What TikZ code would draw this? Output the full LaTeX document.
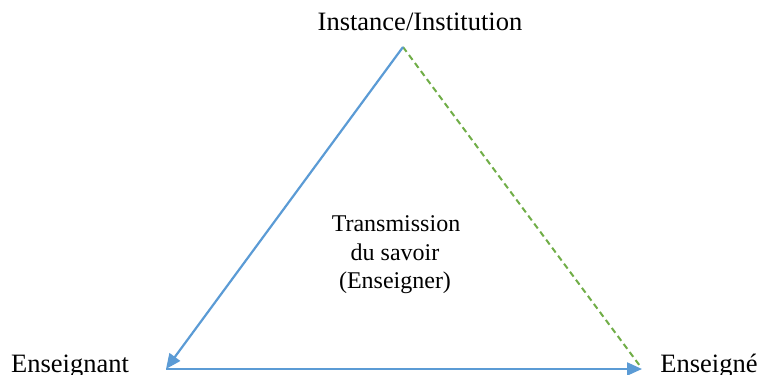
\documentclass[tikz,border=0pt]{standalone}
\usepackage{fontspec}
\setmainfont{Liberation Serif}
\usetikzlibrary{arrows.meta}
\definecolor{lblue}{RGB}{91,155,213}
\definecolor{lgreen}{RGB}{112,173,71}
\begin{document}
\begin{tikzpicture}[x=0.5pt,y=-0.5pt,
  lbl/.style={inner sep=0pt,anchor=base,font=\fontsize{13.25pt}{15pt}\selectfont},
  mid/.style={inner sep=0pt,anchor=base,font=\fontsize{12pt}{14pt}\selectfont},
  bline/.style={draw=lblue,line width=1.1pt,-{Triangle[length=7.5pt,width=6.5pt]}},
  gline/.style={draw=lgreen,line width=1pt,dash pattern=on 3pt off 2pt}]
\useasboundingbox (0,0) rectangle (761,375);
\coordinate (A) at (403,47);
\coordinate (L) at (166,369);
\coordinate (R) at (642,369);
\coordinate (G) at (640,366);
\node[lbl] (inst) at (420,31) {Instance/Institution};
\node[lbl] (ens) at (70,372) {Enseignant};
\node[lbl] (ene) at (709,372) {Enseigné};
\node[mid] (t1) at (396,231) {Transmission};
\node[mid] (t2) at (395,260) {du savoir};
\node[mid] (t3) at (395,288) {(Enseigner)};
\draw[gline] (A) -- (G);
\draw[bline] (A) -- (L);
\draw[bline] (L) -- (R);
\end{tikzpicture}
\end{document}
